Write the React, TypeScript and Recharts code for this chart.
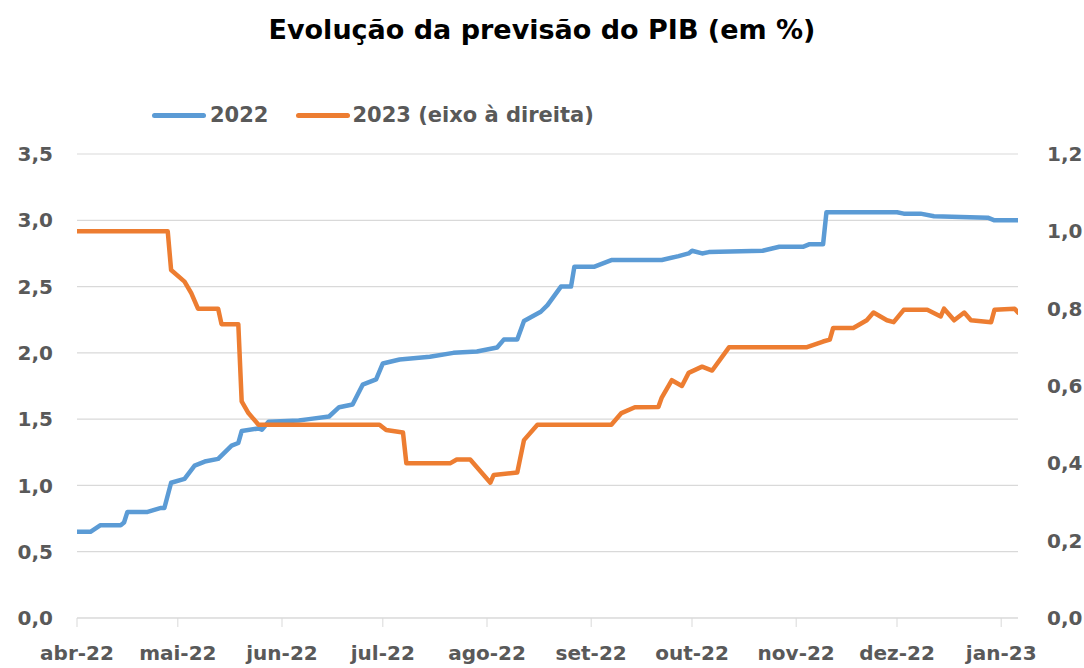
import React from 'react';
import { LineChart, Line, XAxis, YAxis, CartesianGrid } from 'recharts';

// Day index: 0 = 1 Apr 2022
const days2022 = [0, 4, 7, 13, 14, 15, 21, 25, 26, 28, 32, 35, 38, 42, 46, 48, 49, 54, 55, 57, 66, 69, 75, 78, 82, 85, 89, 91, 96, 105, 112, 119, 125, 127, 131, 133, 138, 140, 144, 147, 148, 154, 159, 174, 179, 182, 183, 186, 188, 204, 209, 216, 218, 222, 223, 244, 246, 251, 255, 271, 273, 280];
const values2022 = [0.65, 0.65, 0.70, 0.70, 0.72, 0.80, 0.80, 0.83, 0.83, 1.02, 1.05, 1.15, 1.18, 1.20, 1.30, 1.32, 1.41, 1.43, 1.42, 1.48, 1.49, 1.50, 1.52, 1.59, 1.61, 1.76, 1.80, 1.92, 1.95, 1.97, 2.00, 2.01, 2.04, 2.10, 2.10, 2.24, 2.31, 2.36, 2.50, 2.50, 2.65, 2.65, 2.70, 2.70, 2.73, 2.75, 2.77, 2.75, 2.76, 2.77, 2.80, 2.80, 2.82, 2.82, 3.06, 3.06, 3.05, 3.05, 3.03, 3.02, 3.00, 3.00];

const days2023 = [0, 27, 28, 32, 34, 36, 42, 43, 48, 49, 51, 54, 90, 92, 97, 98, 111, 113, 117, 119, 123, 124, 131, 133, 137, 159, 162, 166, 173, 174, 177, 180, 182, 186, 189, 194, 217, 222, 224, 225, 231, 235, 237, 241, 243, 246, 253, 257, 258, 261, 264, 266, 272, 273, 279, 280];
const values2023 = [1.00, 1.00, 0.90, 0.87, 0.84, 0.80, 0.80, 0.76, 0.76, 0.56, 0.53, 0.50, 0.50, 0.486, 0.48, 0.40, 0.40, 0.41, 0.41, 0.39, 0.35, 0.37, 0.376, 0.46, 0.50, 0.50, 0.53, 0.545, 0.546, 0.57, 0.615, 0.60, 0.634, 0.65, 0.64, 0.70, 0.70, 0.715, 0.72, 0.75, 0.75, 0.77, 0.79, 0.77, 0.765, 0.797, 0.797, 0.78, 0.80, 0.77, 0.79, 0.77, 0.765, 0.797, 0.80, 0.79];

const monthTicks = [0, 30, 61, 91, 122, 153, 183, 214, 244, 275];
const monthLabels = ['abr-22', 'mai-22', 'jun-22', 'jul-22', 'ago-22', 'set-22', 'out-22', 'nov-22', 'dez-22', 'jan-23'];
const leftTicks = [0, 0.5, 1, 1.5, 2, 2.5, 3, 3.5];
const rightTicks = [0, 0.2, 0.4, 0.6, 0.8, 1.0, 1.2];

const data2022 = days2022.map((d, i) => ({ day: d, v: values2022[i] }));
const data2023 = days2023.map((d, i) => ({ day: d, v: values2023[i] }));

const FONT = '"DejaVu Sans", sans-serif';
const GRAY = '#595959';
const BLUE = '#5B9BD5';
const ORANGE = '#ED7D31';
const fmt = (v: number) => v.toFixed(1).replace('.', ',');

export default function App() {
  const tickStyle = { fill: GRAY, fontSize: 20, fontWeight: 700, fontFamily: FONT };
  return (
    <div style={{ position: 'absolute', left: 0, top: 0, width: 1084, height: 668, background: '#fff', fontFamily: FONT }}>
      <div style={{ position: 'absolute', left: 0, top: 14, width: 1084, textAlign: 'center', fontSize: 27, fontWeight: 700, color: '#000' }}>
        Evolução da previsão do PIB (em %)
      </div>
      <div style={{ position: 'absolute', left: 152, top: 100, display: 'flex', alignItems: 'center', fontSize: 21, fontWeight: 700, color: GRAY, height: 30 }}>
        <span style={{ display: 'inline-block', width: 54, height: 5, borderRadius: 3, background: BLUE, marginRight: 4 }} />
        <span style={{ marginRight: 28 }}>2022</span>
        <span style={{ display: 'inline-block', width: 54, height: 5, borderRadius: 3, background: ORANGE, marginRight: 2 }} />
        <span>2023 (eixo à direita)</span>
      </div>
      <div style={{ position: 'absolute', left: 0, top: 0 }}>
        <LineChart width={1084} height={668} margin={{ top: 154, right: 0, bottom: 0, left: 0 }}>
          <CartesianGrid vertical={false} stroke="#d9d9d9" strokeWidth={1.2} yAxisId="left" />
          <XAxis
            type="number"
            dataKey="day"
            domain={[0, 280]}
            ticks={monthTicks}
            tickFormatter={(v: number) => monthLabels[monthTicks.indexOf(v)]}
            height={50}
            stroke="#d9d9d9"
            tickLine={{ stroke: '#d9d9d9' }}
            tickSize={9}
            tickMargin={19}
            tick={tickStyle}
            allowDataOverflow
            interval={0}
          />
          <YAxis
            yAxisId="left"
            orientation="left"
            domain={[0, 3.5]}
            ticks={leftTicks}
            tickFormatter={fmt}
            width={77}
            axisLine={false}
            tickLine={false}
            tickSize={0}
            tickMargin={24}
            tick={tickStyle}
            interval={0}
          />
          <YAxis
            yAxisId="right"
            orientation="right"
            domain={[0, 1.2]}
            ticks={rightTicks}
            tickFormatter={fmt}
            width={66}
            axisLine={false}
            tickLine={false}
            tickSize={0}
            tickMargin={29}
            tick={{ ...tickStyle, textAnchor: 'start' }}
            interval={0}
          />
          <Line yAxisId="left" data={data2022} dataKey="v" type="linear" stroke={BLUE} strokeWidth={4.5} dot={false} isAnimationActive={false} strokeLinejoin="round" strokeLinecap="round" />
          <Line yAxisId="right" data={data2023} dataKey="v" type="linear" stroke={ORANGE} strokeWidth={4.5} dot={false} isAnimationActive={false} strokeLinejoin="round" strokeLinecap="round" />
        </LineChart>
      </div>
    </div>
  );
}
